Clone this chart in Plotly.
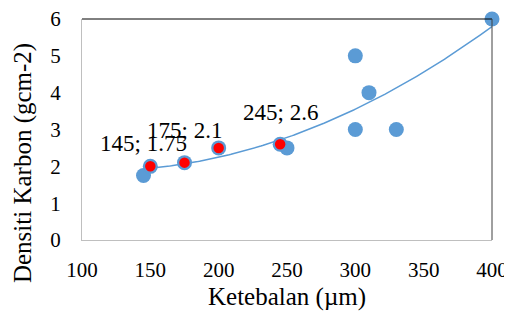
import numpy as np
import plotly.graph_objects as go

# Data
blue_x = [145, 150, 175, 200, 245, 250, 300, 300, 310, 330, 400]
blue_y = [1.75, 2.0, 2.1, 2.5, 2.6, 2.5, 5.0, 3.0, 4.0, 3.0, 6.0]
red_x = [150, 175, 200, 245]
red_y = [2.0, 2.1, 2.5, 2.6]
label_x = [145, 175, 245]
label_y = [1.75, 2.1, 2.6]
x_ticks = [100, 150, 200, 250, 300, 350, 400]
y_ticks = [0, 1, 2, 3, 4, 5, 6]

BLUE = "#5b9bd5"
FONT = "Liberation Serif"

# polynomial (order 2) trendline fitted to the blue series
xs = np.linspace(min(blue_x), max(blue_x), 200)
c = np.polyfit(blue_x, blue_y, 2)
trend_y = np.polyval(c, xs)

fig = go.Figure()
fig.add_trace(go.Scatter(x=blue_x, y=blue_y, mode="markers", cliponaxis=False,
                         marker=dict(size=15, color=BLUE), showlegend=False))
fig.add_trace(go.Scatter(x=xs, y=trend_y, mode="lines", cliponaxis=False,
                         line=dict(color=BLUE, width=1.5), showlegend=False))
fig.add_trace(go.Scatter(x=red_x, y=red_y, mode="markers", cliponaxis=False,
                         marker=dict(size=12, color="#ff0000", line=dict(color=BLUE, width=1.5)),
                         showlegend=False))

for lx, ly in zip(label_x, label_y):
    fig.add_annotation(x=lx, y=ly, text=f"{lx}; {ly:g}", showarrow=False, yshift=32,
                       font=dict(family=FONT, size=23, color="black"))

fig.add_annotation(xref="paper", yref="paper", x=0.5, y=-0.26, yanchor="middle",
                   text="Ketebalan (µm)", showarrow=False,
                   font=dict(family=FONT, size=25, color="black"))
fig.add_annotation(xref="paper", yref="paper", x=-0.144, y=0.348, xanchor="center", yanchor="middle",
                   textangle=-90, text="Densiti Karbon (gcm-2)", showarrow=False,
                   font=dict(family=FONT, size=25, color="black"))

fig.add_shape(type="line", xref="paper", yref="paper", x0=0, x1=1, y0=1, y1=1,
              line=dict(color="black", width=1))
fig.add_shape(type="line", xref="paper", yref="paper", x0=1, x1=1, y0=0, y1=1,
              line=dict(color="#404040", width=1))

fig.update_xaxes(range=[100, 400], tickvals=x_ticks, showgrid=False, zeroline=False,
                 showline=True, linecolor="#bfbfbf", linewidth=1, ticks="",
                 ticklabelstandoff=11, automargin=False, ticklabeloverflow="allow",
                 tickfont=dict(family=FONT, size=21, color="black"))
fig.update_yaxes(range=[0, 6], tickvals=y_ticks, showgrid=False, zeroline=False,
                 showline=True, linecolor="#bfbfbf", linewidth=1, ticks="",
                 ticklabelstandoff=16, automargin=False, ticklabeloverflow="allow",
                 tickfont=dict(family=FONT, size=21, color="black"))
# page has an 8px body margin, so the figure is 8px smaller than the window
fig.update_layout(width=504, height=305, margin=dict(l=74, r=20, t=11, b=73, autoexpand=False),
                  plot_bgcolor="white", paper_bgcolor="white")
fig.write_html("out.html")
